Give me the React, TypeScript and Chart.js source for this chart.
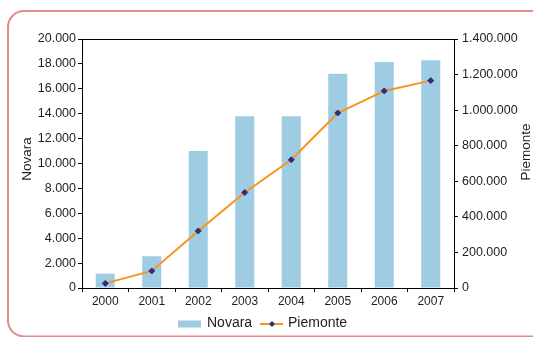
import React, { useEffect, useRef } from "react";
import { Chart, registerables } from "chart.js";

Chart.register(...registerables);

const years = ["2000", "2001", "2002", "2003", "2004", "2005", "2006", "2007"];
const novara = [1150, 2550, 11000, 13800, 13800, 17200, 18150, 18300];
const piemonte = [26000, 96000, 321000, 537000, 721000, 984000, 1108000, 1166000];
const leftTicksMax = 20000;
const leftStep = 2000;
const rightTicksMax = 1400000;
const rightStep = 200000;

const FONT = "'Liberation Sans', Arial, sans-serif";
const TEXT = "#1e1e1e";
const BAR = "#9ecde3";
const LINE = "#f7941d";
const MARK = "#2e2d7f";
const FRAME = "#e48c8c";

function fmt(v: number): string {
  return String(Math.round(v)).replace(/\B(?=(\d{3})+(?!\d))/g, ".");
}

const framePlugin = {
  id: "frame",
  beforeDraw(chart: any) {
    const ctx = chart.ctx as CanvasRenderingContext2D;
    ctx.save();
    ctx.fillStyle = "#fff";
    ctx.fillRect(0, 0, chart.width, chart.height);
    ctx.strokeStyle = FRAME;
    ctx.lineWidth = 2;
    const x = 8, y = 11, r = 16;
    ctx.beginPath();
    ctx.moveTo(chart.width + 20, y);
    ctx.lineTo(x + r, y);
    ctx.arcTo(x, y, x, y + r, r);
    ctx.lineTo(x, 337 - r + 0.5);
    ctx.arcTo(x, 336.5, x + r, 336.5, r);
    ctx.lineTo(chart.width + 20, 336.5);
    ctx.stroke();
    ctx.restore();
  },
};

const decorPlugin = {
  id: "decor",
  afterDraw(chart: any) {
    const ctx = chart.ctx as CanvasRenderingContext2D;
    const a = chart.chartArea;
    ctx.save();
    ctx.strokeStyle = "#000";
    ctx.lineWidth = 1;
    ctx.beginPath();
    ctx.moveTo(a.left, Math.round(a.top) + 0.5);
    ctx.lineTo(a.right, Math.round(a.top) + 0.5);
    ctx.stroke();

    ctx.fillStyle = TEXT;
    ctx.font = `13.5px ${FONT}`;
    ctx.textAlign = "center";
    ctx.textBaseline = "middle";
    const ds = chart.data.datasets;
    ctx.save();
    ctx.translate(27, 159);
    ctx.rotate(-Math.PI / 2);
    ctx.fillText(ds[0].label, 0, 0);
    ctx.restore();
    ctx.save();
    ctx.translate(526, 152);
    ctx.rotate(-Math.PI / 2);
    ctx.fillText(ds[1].label, 0, 0);
    ctx.restore();

    const ly = 323.5;
    ctx.fillStyle = BAR;
    ctx.fillRect(178, 320.5, 23, 7);
    ctx.fillStyle = TEXT;
    ctx.font = `14px ${FONT}`;
    ctx.textAlign = "left";
    ctx.fillText(ds[0].label, 207, ly);
    ctx.strokeStyle = LINE;
    ctx.lineWidth = 2;
    ctx.beginPath();
    ctx.moveTo(260, ly + 0.5);
    ctx.lineTo(283, ly + 0.5);
    ctx.stroke();
    ctx.fillStyle = MARK;
    ctx.beginPath();
    ctx.moveTo(272, ly + 0.5 - 3);
    ctx.lineTo(275, ly + 0.5);
    ctx.lineTo(272, ly + 0.5 + 3);
    ctx.lineTo(269, ly + 0.5);
    ctx.closePath();
    ctx.fill();
    ctx.fillStyle = TEXT;
    ctx.fillText(ds[1].label, 288, ly);
    ctx.restore();
  },
};

export default function App() {
  const ref = useRef<HTMLCanvasElement | null>(null);

  useEffect(() => {
    if (!ref.current) return;
    const chart = new Chart(ref.current, {
      type: "bar",
      data: {
        labels: years,
        datasets: [
          {
            type: "bar",
            label: "Novara",
            data: novara,
            yAxisID: "y",
            backgroundColor: BAR,
            barPercentage: 0.41,
            categoryPercentage: 1,
            order: 2,
          },
          {
            type: "line",
            label: "Piemonte",
            data: piemonte,
            yAxisID: "y1",
            borderColor: LINE,
            borderWidth: 2,
            tension: 0,
            pointStyle: "rectRot",
            pointRadius: 3,
            pointBackgroundColor: MARK,
            pointBorderColor: MARK,
            pointBorderWidth: 1,
            order: 1,
          },
        ] as any,
      },
      options: {
        animation: false,
        responsive: false,
        layout: { padding: { top: 39, bottom: 0, left: 0, right: 0 } },
        plugins: {
          legend: { display: false },
          tooltip: { enabled: false },
        },
        scales: {
          x: {
            offset: true,
            grid: {
              drawOnChartArea: false,
              drawTicks: true,
              tickLength: 4,
              color: "#000",
              offset: true,
            },
            border: { display: true, color: "#000" },
            ticks: { color: TEXT, font: { family: FONT, size: 12 }, padding: 2, maxRotation: 0 },
            afterFit(scale: any) {
              scale.height = 49;
            },
          },
          y: {
            position: "left",
            min: 0,
            max: leftTicksMax,
            grid: { drawOnChartArea: false, tickLength: 4, color: "#000" },
            border: { display: true, color: "#000" },
            ticks: {
              stepSize: leftStep,
              color: TEXT,
              font: { family: FONT, size: 12.5 },
              padding: 2,
              callback: (v: any) => fmt(Number(v)),
            },
            afterFit(scale: any) {
              scale.width = 82;
            },
          },
          y1: {
            position: "right",
            min: 0,
            max: rightTicksMax,
            grid: { drawOnChartArea: false, tickLength: 4, color: "#000" },
            border: { display: true, color: "#000" },
            ticks: {
              stepSize: rightStep,
              color: TEXT,
              font: { family: FONT, size: 12.5 },
              padding: 4,
              callback: (v: any) => fmt(Number(v)),
            },
            afterFit(scale: any) {
              scale.width = 79;
            },
          },
        },
      },
      plugins: [framePlugin, decorPlugin],
    });
    return () => chart.destroy();
  }, []);

  return (
    <div
      style={{
        position: "fixed",
        left: 0,
        top: 0,
        width: 533,
        height: 337,
        overflow: "hidden",
        background: "#fff",
      }}
    >
      <canvas
        ref={ref}
        width={533}
        height={337}
        style={{ position: "absolute", left: 0, top: 0, width: 533, height: 337 }}
      />
    </div>
  );
}
